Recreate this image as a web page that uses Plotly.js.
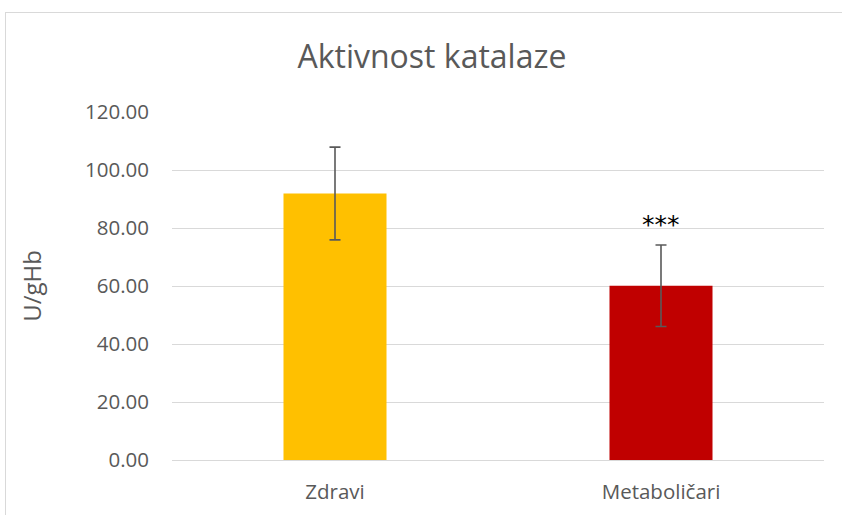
<!DOCTYPE html>
<html>
<head>
<meta charset="utf-8">
<script src="https://cdn.plot.ly/plotly-3.0.1.min.js"></script>
<style>
html,body{margin:0;padding:0;background:#fff;overflow:hidden;}
#wrap{position:relative;width:842px;height:515px;}
#frame{position:absolute;left:5px;top:12px;width:900px;height:600px;border:1px solid #d9d9d9;pointer-events:none;z-index:2;}
#chart{position:absolute;left:0;top:0;width:842px;height:515px;}
</style>
</head>
<body>
<div id="wrap"><div id="chart"></div><div id="frame"></div></div>
<script>
const categories = ["Zdravi", "Metaboličari"];
const values = [91.9, 60.1];
const errors = [16.0, 14.05];
const barColors = ["#ffc000", "#c00000"];
const tickVals = [0, 20, 40, 60, 80, 100, 120];
const significance = ["", "***"];
const sigY = [0, 81.3];

const trace = {
  type: "bar",
  x: categories,
  y: values,
  marker: {color: barColors},
  error_y: {type: "data", array: errors, visible: true, color: "#595959", thickness: 1.6, width: 5.5},
  hoverinfo: "none"
};

const annotations = [];
categories.forEach((c, i) => {
  if (significance[i]) {
    annotations.push({x: c, y: sigY[i], xref: "x", yref: "y", text: significance[i], showarrow: false,
      font: {family: "DejaVu Sans, sans-serif", size: 25, color: "#000"}, yanchor: "middle"});
  }
});

const layout = {
  width: 842, height: 515,
  margin: {l: 172, r: 18, t: 112, b: 55},
  paper_bgcolor: "#fff", plot_bgcolor: "#fff",
  title: {text: "Aktivnost katalaze", x: 0.513, xanchor: "center", y: 0.889, yanchor: "middle",
    font: {family: "Open Sans, sans-serif", size: 32, color: "#595959"}},
  bargap: 0.684,
  showlegend: false,
  xaxis: {showgrid: false, zeroline: false, showline: false, ticks: "",
    tickfont: {family: "Open Sans, sans-serif", size: 20.5, color: "#595959"}, ticklabelstandoff: 17},
  yaxis: {range: [0, 120], tickvals: tickVals, ticktext: tickVals.map(v => v.toFixed(2)),
    showgrid: true, gridcolor: "#d9d9d9", gridwidth: 1, zeroline: true, zerolinecolor: "#d9d9d9", zerolinewidth: 1,
    showline: false, ticks: "", ticklabelstandoff: 22,
    tickfont: {family: "Open Sans, sans-serif", size: 20.5, color: "#595959"},
    title: {text: "U/gHb", standoff: 36, font: {family: "Open Sans, sans-serif", size: 24, color: "#595959"}}},
  annotations: annotations
};

Plotly.newPlot("chart", [trace], layout, {staticPlot: true});
</script>
</body>
</html>
